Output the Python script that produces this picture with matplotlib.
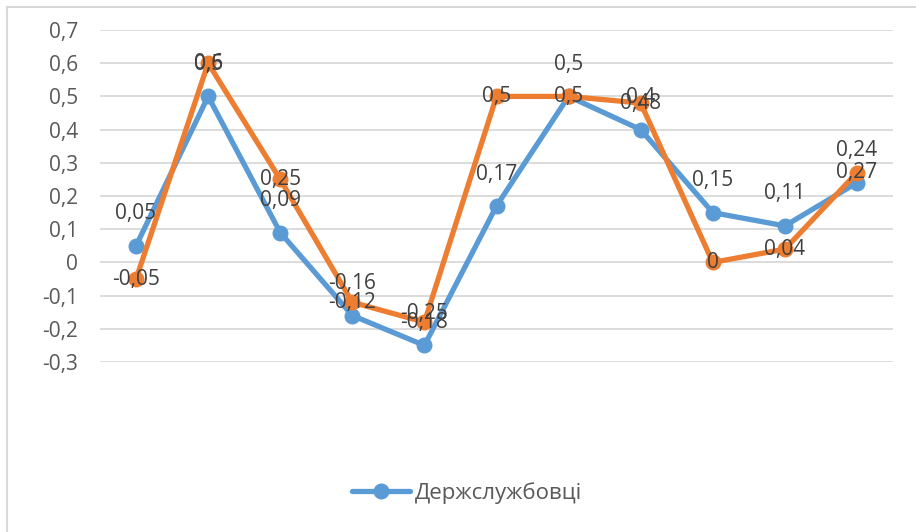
import matplotlib.pyplot as plt
from matplotlib.lines import Line2D
import numpy as np

# Data
categories = list(range(1, 12))
civil_servants = [0.05, 0.5, 0.09, -0.16, -0.25, 0.17, 0.5, 0.4, 0.15, 0.11, 0.24]
second_series = [-0.05, 0.6, 0.25, -0.12, -0.18, 0.5, 0.5, 0.48, 0, 0.04, 0.27]
y_ticks = [-0.3, -0.2, -0.1, 0, 0.1, 0.2, 0.3, 0.4, 0.5, 0.6, 0.7]

BLUE = '#5B9BD5'
ORANGE = '#ED7D31'
W, H = 916, 532
FS = 15

plt.rcParams['font.family'] = ['Open Sans', 'DejaVu Sans']


def fmt(v):
    return ('%g' % v).replace('.', ',')


fig = plt.figure(figsize=(W / 100, H / 100), dpi=100)
ax = fig.add_axes([100 / W, 1 - 362 / H, 793 / W, 332 / H])

x = np.arange(len(categories))
ax.plot(x, civil_servants, color=BLUE, lw=3.8, marker='o', markersize=10.5,
        solid_capstyle='round', label='Держслужбовці', zorder=3)
ax.plot(x, second_series, color=ORANGE, lw=3.8, marker='o', markersize=10.5,
        solid_capstyle='round', zorder=4)

# data labels: blue above the point, orange centred on the point
for xi, v in zip(x, civil_servants):
    ax.annotate(fmt(v), (xi, v), xytext=(0, 23), textcoords='offset points',
                ha='center', va='center', fontsize=FS, color='#404040', zorder=5)
for xi, v in zip(x, second_series):
    ax.annotate(fmt(v), (xi, v), xytext=(0, 0), textcoords='offset points',
                ha='center', va='center', fontsize=FS, color='#404040', zorder=5)

ax.set_xlim(-0.5, len(categories) - 0.5)
ax.set_ylim(-0.3, 0.7)
ax.set_yticks(y_ticks)
ax.set_yticklabels([fmt(t) for t in y_ticks], fontsize=FS, color='#595959')
ax.set_xticks([])
ax.tick_params(axis='y', length=0, pad=16)
ax.grid(axis='y', color='#D9D9D9', lw=1.3)
ax.set_axisbelow(True)
for s in ax.spines.values():
    s.set_visible(False)

fig.legend(loc='center', bbox_to_anchor=(467 / W, 1 - 493 / H), frameon=False,
           fontsize=FS + 1, labelcolor='#595959', handlelength=2.6, handletextpad=0.2)

# chart frame (top and left edges visible)
fig.add_artist(Line2D([7 / W, 1], [1 - 7 / H, 1 - 7 / H], color='#D9D9D9', lw=1.5))
fig.add_artist(Line2D([7 / W, 7 / W], [0, 1 - 7 / H], color='#D9D9D9', lw=1.5))

fig.savefig('out.png', dpi=100)
